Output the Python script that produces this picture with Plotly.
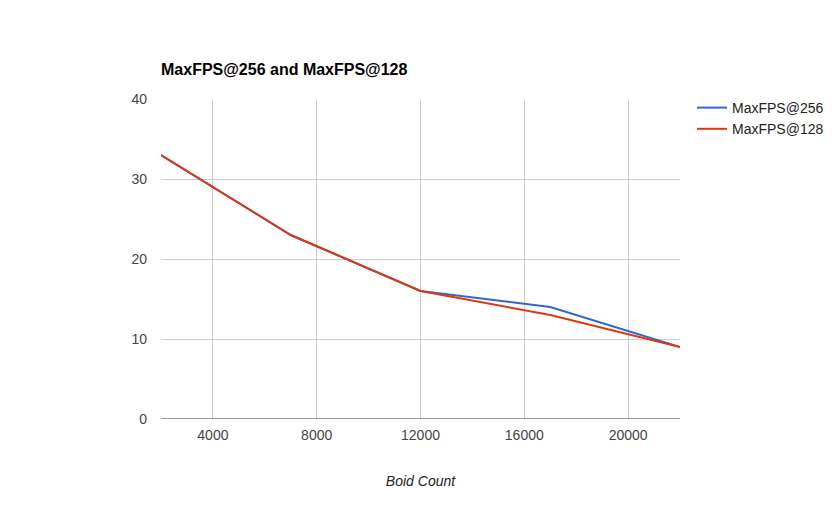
import plotly.graph_objects as go

# boid counts and max fps per config
boid_count = [2000, 7000, 12000, 17000, 22000]
fps_256 = [33, 23, 16, 14, 9]
fps_128 = [33, 23, 16, 13, 9]

x_ticks = [4000, 8000, 12000, 16000, 20000]
x_labels = ['4000', '8000', '12000', '16000', '20000']
y_ticks = [0, 10, 20, 30, 40]

fig = go.Figure()
fig.add_trace(go.Scatter(x=boid_count, y=fps_256, mode='lines', name='MaxFPS@256',
                         line=dict(color='#3366cc', width=2)))
fig.add_trace(go.Scatter(x=boid_count, y=fps_128, mode='lines', name='MaxFPS@128',
                         line=dict(color='#dc3912', width=2)))

# page body has an 8px margin, so size/margins are offset by that
fig.update_layout(
    width=832, height=511,
    margin=dict(l=153, r=159, t=91, b=100),
    paper_bgcolor='white', plot_bgcolor='white',
    font=dict(family='Liberation Sans, Arial', size=14, color='#444444'),
    title=dict(text='<b>MaxFPS@256 and MaxFPS@128</b>', x=153/832, xanchor='left',
               y=1-61/511, yanchor='middle', font=dict(size=16, color='black')),
    xaxis=dict(range=[2000, 22000], tickvals=x_ticks, ticktext=x_labels,
               showgrid=True, gridcolor='#cccccc',
               zeroline=False, showline=False, ticks='', ticklabelstandoff=6,
               title=dict(text='<i>Boid Count</i>', standoff=34,
                          font=dict(size=14, color='#222222'))),
    yaxis=dict(range=[0, 40], tickvals=y_ticks, showgrid=True, gridcolor='#cccccc',
               zeroline=False, showline=False, ticks='', ticklabelstandoff=13),
    legend=dict(x=(692-161)/520, xanchor='left', y=(419-92)/320, yanchor='top',
                bgcolor='rgba(0,0,0,0)', font=dict(size=14, color='#222222')),
    showlegend=True
)
# dark baseline at y=0
fig.add_shape(type='line', xref='paper', yref='y', x0=0, x1=1, y0=0, y1=0,
              line=dict(color='#333333', width=1))

fig.write_html("out.html")
